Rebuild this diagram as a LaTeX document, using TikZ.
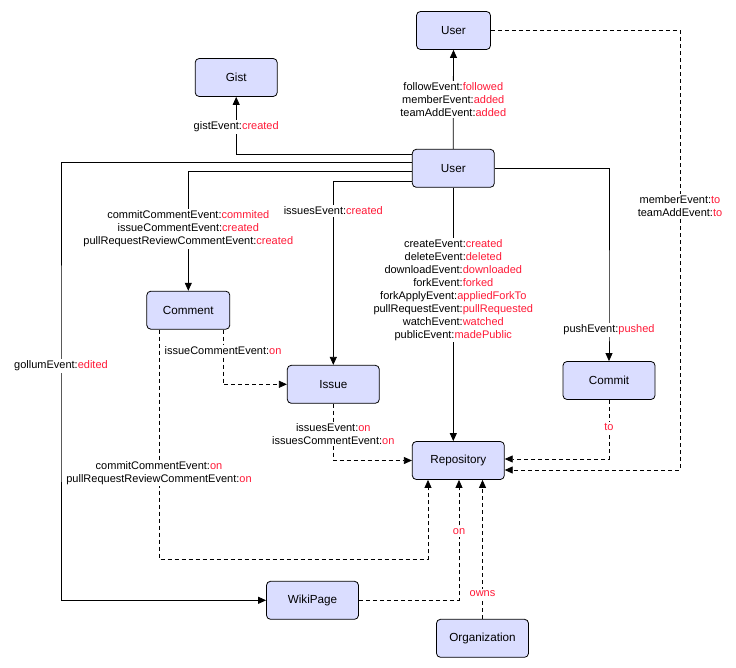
\documentclass[tikz,border=0pt]{standalone}
\usepackage{fontspec}
\setmainfont{Liberation Sans}
\usetikzlibrary{arrows.meta}
\definecolor{evred}{RGB}{255,25,55}
\definecolor{nodefill}{RGB}{218,221,255}
\newcommand\ev[2]{#1:\textcolor{evred}{#2}}
\begin{document}
\begin{tikzpicture}[x=1pt,y=-1pt,
 ent/.style={draw, rounded corners=4pt, fill=nodefill, line width=0.8pt, inner sep=0pt, minimum height=38pt, font=\fontsize{11.7}{14}\selectfont},
 lbl/.style={fill=white, inner sep=1.5pt, align=center, font=\fontsize{11}{13}\selectfont},
 conn/.style={line width=0.8pt, -{Triangle[length=8pt,width=7pt]}},
 dconn/.style={conn, dash pattern=on 4pt off 3pt},
]
\useasboundingbox (0,0) rectangle (736,668);

% nodes
\node[ent, minimum width=74pt] (utop) at (453.5,30.5) {User};
\node[ent, minimum width=82pt] (gist) at (236.2,77.5) {Gist};
\node[ent, minimum width=82pt] (umid) at (453.3,168.3) {User};
\node[ent, minimum width=83pt] (comment) at (188.3,310.2) {Comment};
\node[ent, minimum width=92pt] (issue) at (333.3,384.3) {Issue};
\node[ent, minimum width=92pt] (commit) at (609,380.5) {Commit};
\node[ent, minimum width=92pt] (repo) at (458.3,460.5) {Repository};
\node[ent, minimum width=92pt] (wiki) at (312.5,600.3) {WikiPage};
\node[ent, minimum width=92pt] (org) at (482.5,638.3) {Organization};

% solid connectors from the middle User
\draw[conn] (umid.north) -- (umid.north |- 0,99.5)
  node[lbl] {\ev{followEvent}{followed}\\\ev{memberEvent}{added}\\\ev{teamAddEvent}{added}}
  -- (utop.south);
\draw[conn] (umid.west |- 0,154) -| (gist.south |- 0,127)
  node[lbl] {\ev{gistEvent}{created}} -- (gist.south);
\draw[conn] (umid.west |- 0,162) -| (61,366)
  node[lbl] {\ev{gollumEvent}{edited}} |- (wiki.west);
\draw[conn] (umid.west |- 0,171) -| (comment.north |- 0,229)
  node[lbl] {\ev{commitCommentEvent}{commited}\\\ev{issueCommentEvent}{created}\\\ev{pullRequestReviewCommentEvent}{created}}
  -- (comment.north);
\draw[conn] (umid.west |- 0,181) -| (issue.north |- 0,211)
  node[lbl] {\ev{issuesEvent}{created}} -- (issue.north);
\draw[conn] (umid.south) -- (umid.south |- 0,290)
  node[lbl] {\ev{createEvent}{created}\\\ev{deleteEvent}{deleted}\\\ev{downloadEvent}{downloaded}\\\ev{forkEvent}{forked}\\\ev{forkApplyEvent}{appliedForkTo}\\\ev{pullRequestEvent}{pullRequested}\\\ev{watchEvent}{watched}\\\ev{publicEvent}{madePublic}}
  -- (umid.south |- repo.north);
\draw[conn] (umid.east |- 0,168) -| (commit.north |- 0,330)
  node[lbl] {\ev{pushEvent}{pushed}} -- (commit.north);

% dashed connectors
\draw[dconn] (utop.east) -| (680,206)
  node[lbl] {\ev{memberEvent}{to}\\\ev{teamAddEvent}{to}} |- (repo.east |- 0,470);
\draw[dconn] (commit.south) -- (commit.south |- 0,427)
  node[lbl, text=evred] {to} |- (repo.east |- 0,459);
\draw[dconn] (comment.south -| 223,0) -- (223,351)
  node[lbl] {\ev{issueCommentEvent}{on}} |- (issue.west);
\draw[dconn] (comment.south -| 159,0) -- (159,473)
  node[lbl] {\ev{commitCommentEvent}{on}\\\ev{pullRequestReviewCommentEvent}{on}}
  |- (428,559) -- (repo.south -| 428,0);
\draw[dconn] (issue.south) -- (issue.south |- 0,434)
  node[lbl] {\ev{issuesEvent}{on}\\\ev{issuesCommentEvent}{on}} |- (repo.west);
\draw[dconn] (wiki.east) -| (459,532)
  node[lbl, text=evred] {on} -- (repo.south -| 459,0);
\draw[dconn] (org.north) -- (org.north |- 0,594)
  node[lbl, text=evred] {owns} -- (repo.south -| org.north);
\end{tikzpicture}
\end{document}
